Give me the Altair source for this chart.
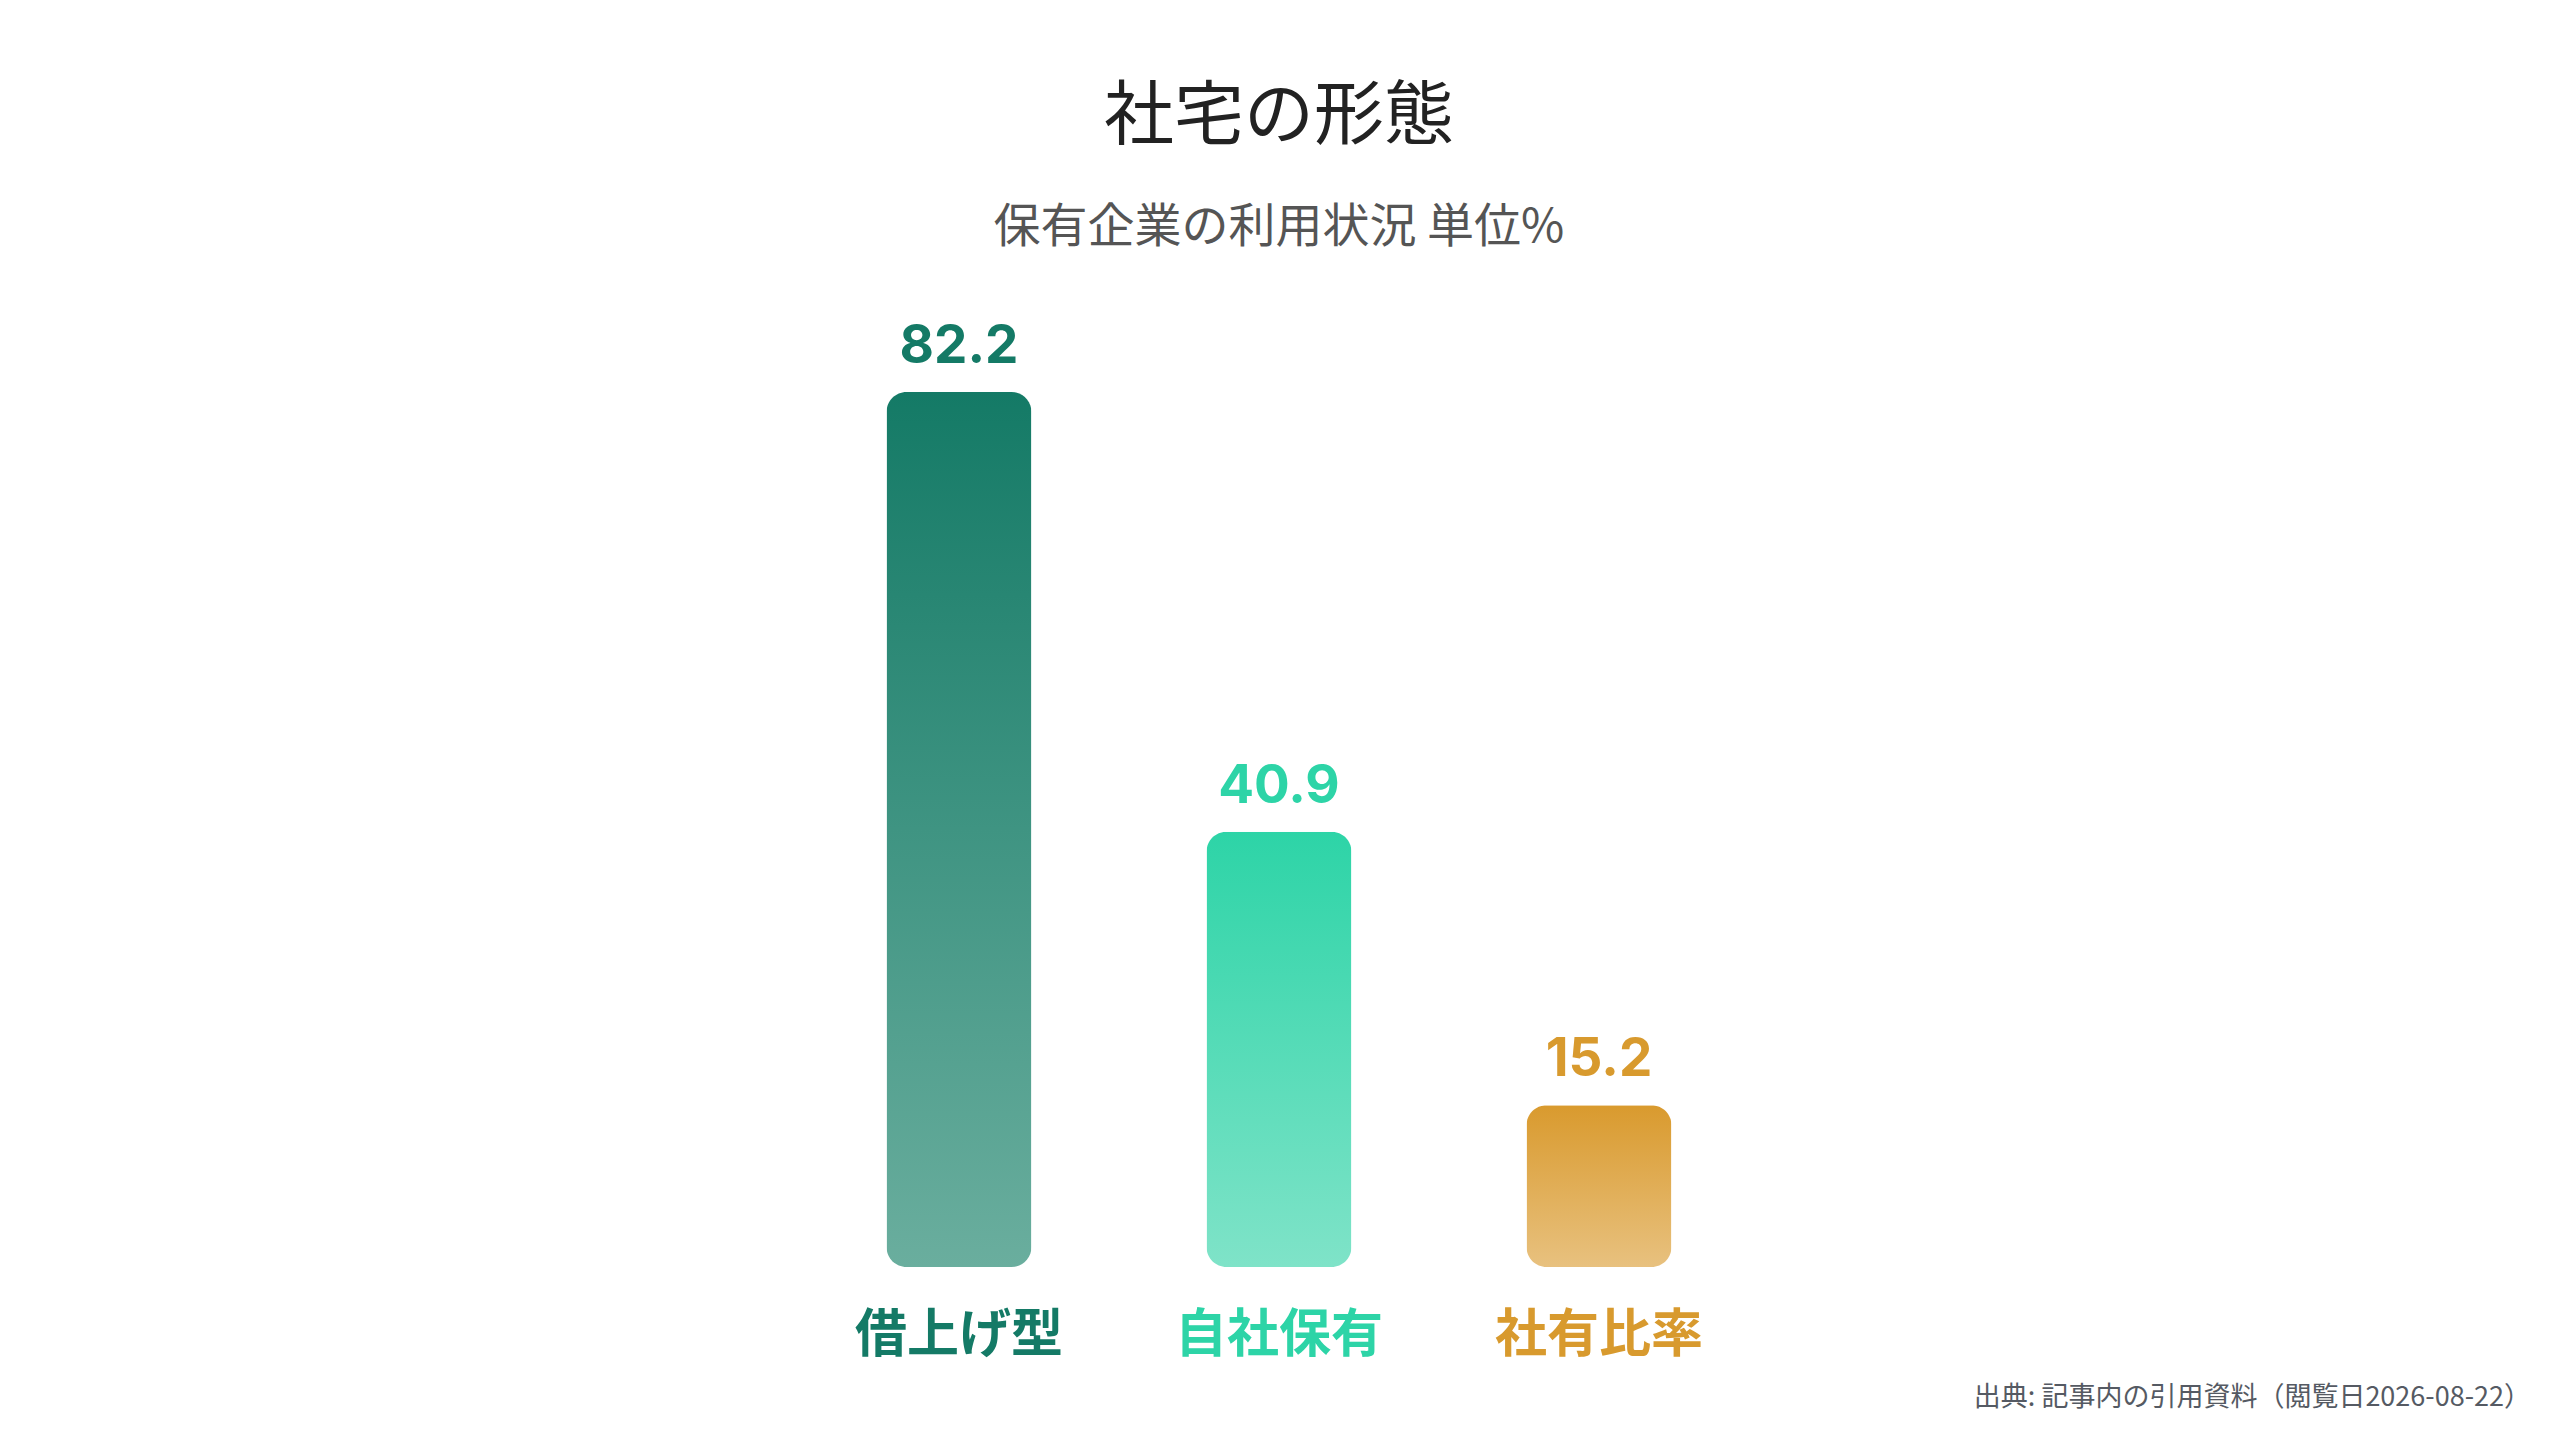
import altair as alt
import pandas as pd

categories = ["借上げ型", "自社保有", "社有比率"]
values = [82.2, 40.9, 15.2]
label_colors = ["#147a66", "#2dd4a7", "#d89a2e"]
grad_top = ["#147a66", "#2dd4a7", "#d99a2e"]
grad_bottom = ["#6aae9e", "#7fe3c8", "#e8c17f"]

title_text = "社宅の形態"
subtitle_text = "保有企業の利用状況 単位%"
source_text = "出典: 記事内の引用資料（閲覧日2026-08-22）"

df = pd.DataFrame({"cat": categories, "val": values})

W, H = 960, 958
FONT = "Noto Sans CJK JP"

xenc = alt.X("cat:N", sort=categories,
             scale=alt.Scale(domain=categories, paddingInner=0.547, paddingOuter=0.2735),
             axis=None)
yenc = alt.Y("val:Q", scale=alt.Scale(domain=[0, 90], nice=False, zero=True), axis=None)
cenc = alt.Color("cat:N", scale=alt.Scale(domain=categories, range=label_colors), legend=None)

base = alt.Chart(df)

bar_layers = []
for c, t, b in zip(categories, grad_top, grad_bottom):
    bar_layers.append(
        base.transform_filter(alt.datum.cat == c).mark_bar(
            cornerRadius=20,
            fill=alt.Gradient(gradient="linear", x1=0, x2=0, y1=0, y2=1,
                              stops=[alt.GradientStop(offset=0, color=t),
                                     alt.GradientStop(offset=1, color=b)]),
        ).encode(x=xenc, y=yenc)
    )

value_labels = base.mark_text(
    font="Inter", fontWeight="bold", fontSize=53, baseline="alphabetic", dy=-29
).encode(x=xenc, y=yenc, text=alt.Text("val:Q", format=".1f"), color=cenc)

cat_labels = base.transform_calculate(zero="0").mark_text(
    font=FONT, fontWeight="bold", fontSize=52, baseline="middle", dy=69
).encode(
    x=xenc,
    y=alt.Y("zero:Q", scale=alt.Scale(domain=[0, 90], nice=False), axis=None),
    text="cat:N", color=cenc,
)

source = alt.Chart(pd.DataFrame({"t": [source_text]})).mark_text(
    font=FONT, fontSize=27, color="#555a63", align="right", baseline="middle"
).encode(x=alt.value(1732), y=alt.value(1089), text="t:N")

chart = alt.layer(*bar_layers, value_labels, cat_labels, source).properties(
    width=W, height=H,
    background="white",
    autosize=alt.AutoSizeParams(type="none"),
    padding={"left": 791, "top": 301, "right": 793, "bottom": 160},
    title=alt.TitleParams(
        text=title_text, subtitle=subtitle_text,
        font=FONT, fontSize=70, fontWeight="normal", color="#222222",
        subtitleFont=FONT, subtitleFontSize=47, subtitleColor="#555555",
        subtitlePadding=51, offset=57, anchor="middle",
    ),
).configure_view(strokeWidth=0, stroke="transparent")

chart.save("out.html", embed_options={"renderer": "svg", "actions": False})
